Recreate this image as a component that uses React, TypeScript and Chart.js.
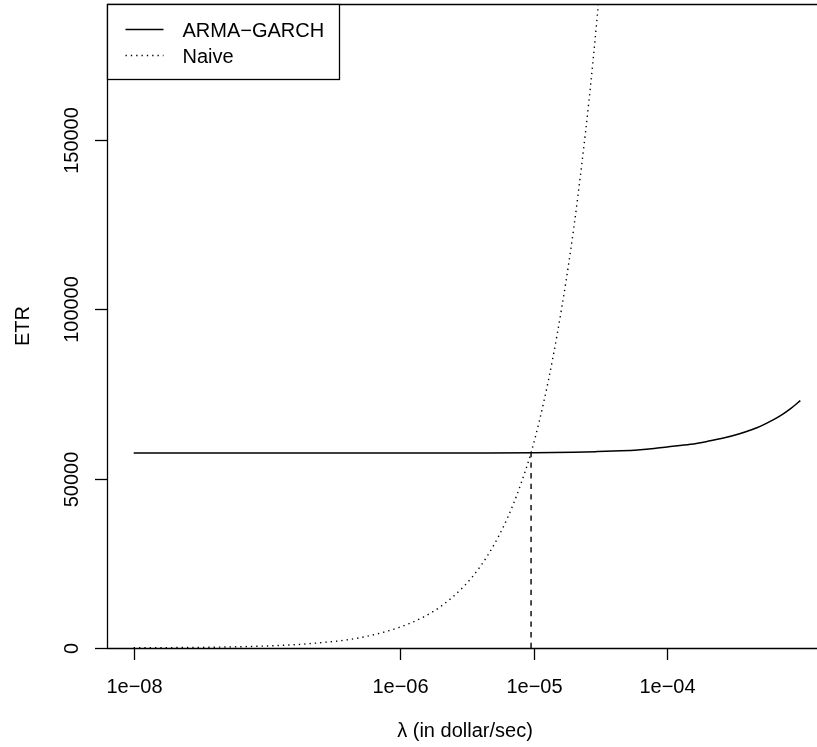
import React, { useEffect, useRef } from "react";
import { Chart, registerables } from "chart.js";

Chart.register(...registerables);

// ARMA-GARCH series
const armaLambda = [1e-8, 1e-7, 1e-6, 3e-6, 1e-5, 2e-5, 3e-5, 4.5e-5, 6e-5, 8e-5, 1e-4, 1.5e-4, 2e-4, 2.7e-4, 3.5e-4, 4.3e-4, 5e-4, 6.25e-4, 7.2e-4, 8.5e-4, 1e-3];
const armaETR = [57500, 57500, 57520, 57550, 57600, 57750, 57950, 58200, 58450, 58850, 59300, 60100, 60950, 62000, 63200, 64400, 65400, 67300, 68700, 70700, 73000];

// Naive series
const naiveLambda = [1e-8, 2e-8, 5e-8, 1e-7, 2e-7, 5e-7, 1e-6, 1.5e-6, 2e-6, 3e-6, 4e-6, 5e-6, 6e-6, 7e-6, 8e-6, 9.56e-6, 1.1e-5, 1.3e-5, 1.5e-5, 1.75e-5, 2e-5, 2.3e-5, 2.6e-5, 3e-5, 3.4e-5];
const naiveETR = [60, 120, 300, 610, 1220, 3050, 6200, 9200, 12200, 18200, 24200, 30200, 36200, 42200, 48300, 57600, 66800, 79600, 92500, 108300, 124000, 143000, 161500, 186500, 211000];

// Crossing marker
const crossLambda = 9.56e-6;
const crossETR = 57600;

// Axes
const xTickValues = [1e-8, 1e-6, 1e-5, 1e-4];
const xTickLabels = ["1e\u221208", "1e\u221206", "1e\u221205", "1e\u221204"];
const yTickValues = [0, 50000, 100000, 150000];
const yTickLabels = ["0", "50000", "100000", "150000"];
const xTitle = "\u03bb (in dollar/sec)";
const yTitle = "ETR";
const legendLabels = ["ARMA\u2212GARCH", "Naive"];

const FONT = '20px "Liberation Sans", Arial, Helvetica, sans-serif';

const rPlot = {
  id: "rPlot",
  afterDraw(chart: any) {
    const ctx = chart.ctx as CanvasRenderingContext2D;
    const { left, top, bottom } = chart.chartArea;
    const W = chart.width;
    const xs = chart.scales.x;
    const ys = chart.scales.y;
    const L = Math.round(left) + 0.5;
    const T = Math.round(top) + 0.5;
    const B = Math.round(bottom) + 0.5;
    ctx.save();
    ctx.strokeStyle = "#000";
    ctx.fillStyle = "#000";
    ctx.lineWidth = 1.3;
    ctx.setLineDash([]);
    // frame (right side lies outside the visible page)
    ctx.beginPath();
    ctx.moveTo(W, T);
    ctx.lineTo(L, T);
    ctx.lineTo(L, B);
    ctx.lineTo(W, B);
    ctx.stroke();
    ctx.font = FONT;
    // x ticks
    ctx.textAlign = "center";
    ctx.textBaseline = "alphabetic";
    xTickValues.forEach((v, i) => {
      const px = Math.round(xs.getPixelForValue(v)) + 0.5;
      ctx.beginPath();
      ctx.moveTo(px, bottom);
      ctx.lineTo(px, bottom + 12);
      ctx.stroke();
      ctx.fillText(xTickLabels[i], px, 693);
    });
    // y ticks
    yTickValues.forEach((v, i) => {
      const py = Math.round(ys.getPixelForValue(v)) + 0.5;
      ctx.beginPath();
      ctx.moveTo(left, py);
      ctx.lineTo(left - 12, py);
      ctx.stroke();
      ctx.save();
      ctx.translate(78, py);
      ctx.rotate(-Math.PI / 2);
      ctx.fillText(yTickLabels[i], 0, 0);
      ctx.restore();
    });
    // titles
    ctx.fillText(xTitle, 465, 737);
    ctx.save();
    ctx.translate(28.5, (top + bottom) / 2);
    ctx.rotate(-Math.PI / 2);
    ctx.fillText(yTitle, 0, 0);
    ctx.restore();
    // legend
    ctx.fillStyle = "#fff";
    ctx.fillRect(Math.round(left) + 1, Math.round(top) + 1, 231, 74);
    ctx.fillStyle = "#000";
    ctx.strokeRect(L, T, 232, 75);
    ctx.lineWidth = 1.5;
    ctx.beginPath();
    ctx.moveTo(125.5, 29.5);
    ctx.lineTo(163.5, 29.5);
    ctx.stroke();
    ctx.setLineDash([1.33, 4]);
    ctx.beginPath();
    ctx.moveTo(125.5, 55.5);
    ctx.lineTo(163.5, 55.5);
    ctx.stroke();
    ctx.setLineDash([]);
    ctx.textAlign = "left";
    ctx.fillText(legendLabels[0], 182.5, 36.7);
    ctx.fillText(legendLabels[1], 182.5, 62.7);
    ctx.restore();
  },
};

export default function App() {
  const ref = useRef<HTMLCanvasElement | null>(null);
  useEffect(() => {
    if (!ref.current) return;
    const chart = new Chart(ref.current, {
      type: "line",
      data: {
        datasets: [
          {
            label: legendLabels[0],
            data: armaLambda.map((x, i) => ({ x, y: armaETR[i] })),
            borderColor: "#000",
            borderWidth: 1.5,
            pointRadius: 0,
            cubicInterpolationMode: "monotone",
            fill: false,
          },
          {
            label: legendLabels[1],
            data: naiveLambda.map((x, i) => ({ x, y: naiveETR[i] })),
            borderColor: "#000",
            borderWidth: 1.4,
            borderDash: [1.33, 4],
            pointRadius: 0,
            cubicInterpolationMode: "monotone",
            fill: false,
          },
          {
            label: "cross",
            data: [
              { x: crossLambda, y: 0 },
              { x: crossLambda, y: crossETR },
            ],
            borderColor: "#000",
            borderWidth: 1.4,
            borderDash: [5.3, 5.3],
            pointRadius: 0,
            fill: false,
          },
        ],
      },
      options: {
        animation: false,
        responsive: false,
        devicePixelRatio: 1,
        layout: { padding: { left: 107, top: 4, right: 13, bottom: 99 } },
        plugins: { legend: { display: false }, tooltip: { enabled: false } },
        scales: {
          x: { type: "logarithmic", display: false, min: Math.pow(10, -8.2), max: Math.pow(10, -2.8) },
          y: { type: "linear", display: false, min: 0, max: 190000 },
        },
      },
      plugins: [rPlot],
    } as any);
    return () => chart.destroy();
  }, []);
  return (
    <div style={{ position: "fixed", left: 0, top: 0, width: 817, height: 747, overflow: "hidden", background: "#fff" }}>
      <canvas ref={ref} width={840} height={747} style={{ display: "block", width: 840, height: 747 }} />
    </div>
  );
}
